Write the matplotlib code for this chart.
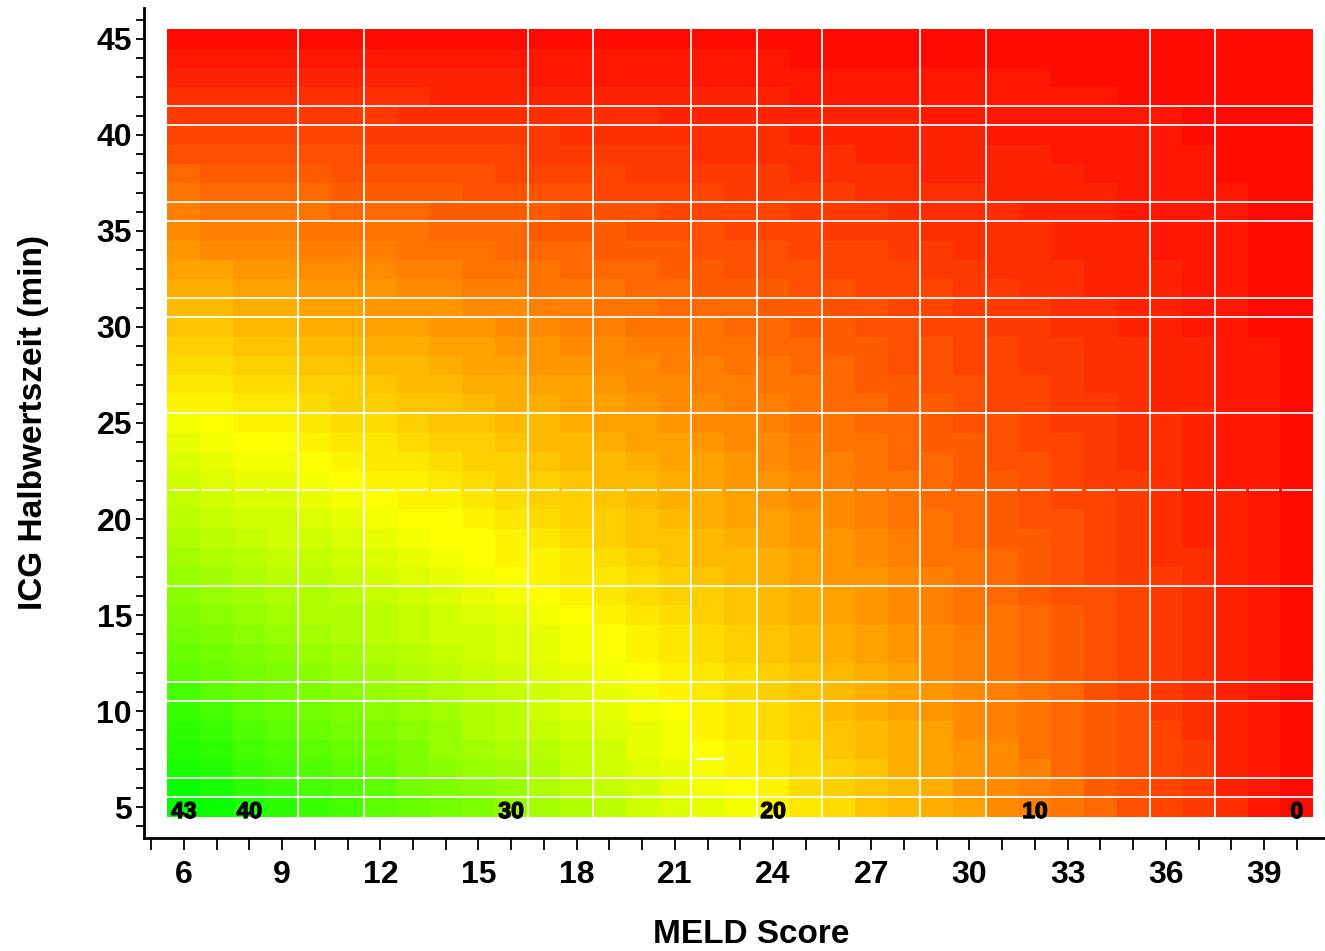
import matplotlib
matplotlib.use('Agg')
import matplotlib.pyplot as plt
import matplotlib.patheffects as pe
import numpy as np
from matplotlib.colors import LinearSegmentedColormap, Normalize

plt.rcParams['font.family'] = ['Liberation Sans', 'DejaVu Sans']
plt.rcParams['font.weight'] = 'bold'

# MELD score columns and ICG half-life rows (min)
meld = list(range(6, 41))
icg = list(range(5, 46))

# one row per ICG value, starting at 5 min; columns follow MELD 6..40
score_grid = [
    [43, 42, 40, 39, 38, 37, 35, 34, 33, 32, 30, 29, 28, 27, 25, 24, 23, 22, 20, 19, 18, 16, 15, 14, 13, 11, 10, 9, 8, 6, 5, 4, 3, 1, 0],  # 5
    [42, 41, 39, 38, 37, 36, 35, 33, 32, 31, 30, 28, 27, 26, 25, 23, 22, 21, 20, 18, 17, 16, 15, 14, 12, 11, 10, 9, 7, 6, 5, 4, 2, 1, 0],  # 6
    [41, 40, 38, 37, 36, 35, 34, 32, 31, 30, 29, 28, 26, 25, 24, 23, 22, 20, 19, 18, 17, 16, 14, 13, 12, 11, 10, 8, 7, 6, 5, 4, 2, 1, 0],  # 7
    [40, 39, 37, 36, 35, 34, 33, 32, 30, 29, 28, 27, 26, 25, 23, 22, 21, 20, 19, 18, 16, 15, 14, 13, 12, 11, 9, 8, 7, 6, 5, 4, 2, 1, 0],  # 8
    [39, 38, 36, 35, 34, 33, 32, 31, 30, 28, 27, 26, 25, 24, 23, 22, 20, 19, 18, 17, 16, 15, 14, 13, 11, 10, 9, 8, 7, 6, 5, 3, 2, 1, 0],  # 9
    [38, 37, 35, 34, 33, 32, 31, 30, 29, 28, 27, 25, 24, 23, 22, 21, 20, 19, 18, 17, 15, 14, 13, 12, 11, 10, 9, 8, 7, 6, 4, 3, 2, 1, 0],  # 10
    [37, 35, 34, 33, 32, 31, 30, 29, 28, 27, 26, 25, 24, 23, 22, 20, 19, 18, 17, 16, 15, 14, 13, 12, 11, 10, 9, 8, 6, 5, 4, 3, 2, 1, 0],  # 11
    [35, 34, 33, 32, 31, 30, 29, 28, 27, 26, 25, 24, 23, 22, 21, 20, 19, 18, 17, 16, 15, 14, 13, 11, 10, 9, 8, 7, 6, 5, 4, 3, 2, 1, 0],  # 12
    [34, 33, 32, 31, 30, 29, 28, 27, 26, 25, 24, 23, 22, 21, 20, 19, 18, 17, 16, 15, 14, 13, 12, 11, 10, 9, 8, 7, 6, 5, 4, 3, 2, 1, 0],  # 13
    [33, 32, 31, 30, 29, 28, 27, 26, 25, 25, 24, 23, 22, 21, 20, 19, 18, 17, 16, 15, 14, 13, 12, 11, 10, 9, 8, 7, 6, 5, 4, 3, 2, 1, 0],  # 14
    [32, 31, 30, 29, 28, 28, 27, 26, 25, 24, 23, 22, 21, 20, 19, 18, 17, 16, 15, 14, 13, 12, 11, 10, 9, 9, 8, 7, 6, 5, 4, 3, 2, 1, 0],  # 15
    [31, 30, 29, 28, 28, 27, 26, 25, 24, 23, 22, 21, 20, 19, 18, 17, 17, 16, 15, 14, 13, 12, 11, 10, 9, 8, 7, 6, 6, 5, 4, 3, 2, 1, 0],  # 16
    [30, 29, 28, 27, 27, 26, 25, 24, 23, 22, 21, 20, 19, 19, 18, 17, 16, 15, 14, 13, 12, 12, 11, 10, 9, 8, 7, 6, 5, 4, 4, 3, 2, 1, 0],  # 17
    [29, 28, 27, 26, 26, 25, 24, 23, 22, 21, 20, 20, 19, 18, 17, 16, 15, 15, 14, 13, 12, 11, 10, 9, 9, 8, 7, 6, 5, 4, 3, 3, 2, 1, 0],  # 18
    [28, 27, 26, 25, 25, 24, 23, 22, 21, 21, 20, 19, 18, 17, 16, 16, 15, 14, 13, 12, 12, 11, 10, 9, 8, 7, 7, 6, 5, 4, 3, 2, 2, 1, 0],  # 19
    [27, 26, 25, 25, 24, 23, 22, 21, 21, 20, 19, 18, 17, 17, 16, 15, 14, 13, 13, 12, 11, 10, 9, 9, 8, 7, 6, 6, 5, 4, 3, 2, 2, 1, 0],  # 20
    [26, 25, 24, 24, 23, 22, 21, 20, 20, 19, 18, 17, 17, 16, 15, 14, 14, 13, 12, 11, 11, 10, 9, 8, 8, 7, 6, 5, 5, 4, 3, 2, 2, 1, 0],  # 21
    [25, 24, 23, 23, 22, 21, 20, 20, 19, 18, 17, 17, 16, 15, 15, 14, 13, 12, 12, 11, 10, 9, 9, 8, 7, 7, 6, 5, 4, 4, 3, 2, 1, 1, 0],  # 22
    [24, 23, 22, 22, 21, 20, 19, 19, 18, 17, 17, 16, 15, 15, 14, 13, 13, 12, 11, 10, 10, 9, 8, 8, 7, 6, 6, 5, 4, 3, 3, 2, 1, 1, 0],  # 23
    [23, 22, 21, 21, 20, 19, 19, 18, 17, 17, 16, 15, 15, 14, 13, 13, 12, 11, 11, 10, 9, 9, 8, 7, 7, 6, 5, 5, 4, 3, 3, 2, 1, 1, 0],  # 24
    [22, 21, 20, 20, 19, 18, 18, 17, 16, 16, 15, 15, 14, 13, 13, 12, 11, 11, 10, 9, 9, 8, 8, 7, 6, 6, 5, 4, 4, 3, 3, 2, 1, 1, 0],  # 25
    [20, 20, 19, 19, 18, 17, 17, 16, 16, 15, 14, 14, 13, 13, 12, 11, 11, 10, 10, 9, 8, 8, 7, 7, 6, 5, 5, 4, 4, 3, 2, 2, 1, 1, 0],  # 26
    [19, 19, 18, 18, 17, 17, 16, 15, 15, 14, 14, 13, 13, 12, 11, 11, 10, 10, 9, 9, 8, 7, 7, 6, 6, 5, 5, 4, 3, 3, 2, 2, 1, 1, 0],  # 27
    [18, 18, 17, 17, 16, 16, 15, 15, 14, 13, 13, 12, 12, 11, 11, 10, 10, 9, 9, 8, 8, 7, 6, 6, 5, 5, 4, 4, 3, 3, 2, 2, 1, 1, 0],  # 28
    [17, 17, 16, 16, 15, 15, 14, 14, 13, 13, 12, 12, 11, 11, 10, 10, 9, 9, 8, 8, 7, 7, 6, 6, 5, 5, 4, 4, 3, 3, 2, 2, 1, 1, 0],  # 29
    [16, 16, 15, 15, 14, 14, 13, 13, 12, 12, 11, 11, 10, 10, 9, 9, 9, 8, 8, 7, 7, 6, 6, 5, 5, 4, 4, 3, 3, 2, 2, 1, 1, 0, 0],  # 30
    [15, 15, 14, 14, 13, 13, 12, 12, 12, 11, 11, 10, 10, 9, 9, 8, 8, 8, 7, 7, 6, 6, 5, 5, 4, 4, 4, 3, 3, 2, 2, 1, 1, 0, 0],  # 31
    [14, 14, 13, 13, 12, 12, 12, 11, 11, 10, 10, 9, 9, 9, 8, 8, 7, 7, 7, 6, 6, 5, 5, 5, 4, 4, 3, 3, 2, 2, 2, 1, 1, 0, 0],  # 32
    [13, 13, 12, 12, 11, 11, 11, 10, 10, 9, 9, 9, 8, 8, 8, 7, 7, 6, 6, 6, 5, 5, 5, 4, 4, 3, 3, 3, 2, 2, 2, 1, 1, 0, 0],  # 33
    [12, 11, 11, 11, 10, 10, 10, 9, 9, 9, 8, 8, 8, 7, 7, 7, 6, 6, 6, 5, 5, 5, 4, 4, 3, 3, 3, 2, 2, 2, 1, 1, 1, 0, 0],  # 34
    [11, 10, 10, 10, 9, 9, 9, 9, 8, 8, 8, 7, 7, 7, 6, 6, 6, 5, 5, 5, 4, 4, 4, 3, 3, 3, 3, 2, 2, 2, 1, 1, 1, 0, 0],  # 35
    [10, 9, 9, 9, 9, 8, 8, 8, 7, 7, 7, 7, 6, 6, 6, 5, 5, 5, 5, 4, 4, 4, 3, 3, 3, 3, 2, 2, 2, 1, 1, 1, 1, 0, 0],  # 36
    [9, 8, 8, 8, 8, 7, 7, 7, 7, 6, 6, 6, 6, 5, 5, 5, 5, 4, 4, 4, 4, 3, 3, 3, 3, 2, 2, 2, 2, 1, 1, 1, 1, 0, 0],  # 37
    [8, 7, 7, 7, 7, 6, 6, 6, 6, 6, 5, 5, 5, 5, 4, 4, 4, 4, 4, 3, 3, 3, 3, 2, 2, 2, 2, 2, 1, 1, 1, 1, 0, 0, 0],  # 38
    [6, 6, 6, 6, 6, 6, 5, 5, 5, 5, 5, 4, 4, 4, 4, 4, 3, 3, 3, 3, 3, 2, 2, 2, 2, 2, 2, 1, 1, 1, 1, 1, 0, 0, 0],  # 39
    [5, 5, 5, 5, 5, 5, 4, 4, 4, 4, 4, 4, 3, 3, 3, 3, 3, 3, 3, 2, 2, 2, 2, 2, 2, 1, 1, 1, 1, 1, 1, 0, 0, 0, 0],  # 40
    [4, 4, 4, 4, 4, 4, 4, 3, 3, 3, 3, 3, 3, 3, 3, 2, 2, 2, 2, 2, 2, 2, 2, 1, 1, 1, 1, 1, 1, 1, 1, 0, 0, 0, 0],  # 41
    [3, 3, 3, 3, 3, 3, 3, 3, 2, 2, 2, 2, 2, 2, 2, 2, 2, 2, 2, 1, 1, 1, 1, 1, 1, 1, 1, 1, 1, 0, 0, 0, 0, 0, 0],  # 42
    [2, 2, 2, 2, 2, 2, 2, 2, 2, 2, 2, 1, 1, 1, 1, 1, 1, 1, 1, 1, 1, 1, 1, 1, 1, 1, 1, 0, 0, 0, 0, 0, 0, 0, 0],  # 43
    [1, 1, 1, 1, 1, 1, 1, 1, 1, 1, 1, 1, 1, 1, 1, 1, 1, 1, 1, 0, 0, 0, 0, 0, 0, 0, 0, 0, 0, 0, 0, 0, 0, 0, 0],  # 44
    [0, 0, 0, 0, 0, 0, 0, 0, 0, 0, 0, 0, 0, 0, 0, 0, 0, 0, 0, 0, 0, 0, 0, 0, 0, 0, 0, 0, 0, 0, 0, 0, 0, 0, 0],  # 45
]

# MELD columns whose 5-min cell value is printed
labelled_meld = [6, 8, 16, 24, 32, 40]

# white seams across the raster
seam_x = [9.5, 11.5, 16.5, 18.5, 21.5, 23.5, 25.5, 28.5, 30.5, 35.5, 37.5]
seam_y = [41.5, 40.5, 36.5, 35.5, 31.5, 30.5, 25.5, 16.5, 11.5, 10.5, 6.5, 5.5]
broken_seam_y = 21.5

z = np.array(score_grid)
x_edges = np.append(np.array(meld) - 0.5, meld[-1] + 0.5)
y_edges = np.append(np.array(icg) - 0.5, icg[-1] + 0.5)

cmap = LinearSegmentedColormap.from_list('ryg', ['#ff0000', '#ffff00', '#00ff00'])
norm = Normalize(vmin=-1, vmax=43)

fig = plt.figure(figsize=(13.25, 9.51), dpi=100)
ax = fig.add_axes([143.6 / 1325, 113 / 951, (1359 - 143.6) / 1325, 830 / 951])

ax.pcolormesh(x_edges, y_edges, z, cmap=cmap, norm=norm, shading='flat',
              antialiased=False, linewidth=0, zorder=1)

seam = dict(color='white', alpha=0.9, lw=1.4, zorder=2)
ax.vlines(seam_x, y_edges[0], y_edges[-1], **seam)
ax.hlines(seam_y, x_edges[0], x_edges[-1], **seam)
ax.hlines([broken_seam_y] * len(meld), np.array(meld) - 0.45, np.array(meld) + 0.45, **seam)
ax.hlines(7.5, 21.6, 22.5, **seam)

for m in labelled_meld:
    val = z[0, meld.index(m)]
    ax.text(m, 4.43, str(val), ha='center', va='baseline', fontsize=16.5,
            fontweight='bold', color='black', zorder=3,
            path_effects=[pe.withStroke(linewidth=0.9, foreground='black')])

ax.set_xlim(4.77, 41.9)
ax.set_ylim(3.39, 46.61)

ax.set_xticks(range(6, 40, 3))
ax.set_xticks(range(5, 42), minor=True)
ax.set_yticks(range(5, 46, 5))
ax.set_yticks(range(4, 47), minor=True)

ax.tick_params(axis='x', which='both', length=8.6, width=1.3, direction='out',
               labelsize=23, pad=7)
ax.tick_params(axis='y', which='both', length=5.8, width=1.3, direction='out',
               labelsize=23, pad=2.5)

for side in ['top', 'right']:
    ax.spines[side].set_visible(False)
for side in ['left', 'bottom']:
    ax.spines[side].set_linewidth(2.0)

fig.text(751 / 1325, 8 / 951, 'MELD Score', ha='center', va='baseline',
         fontsize=24, fontweight='bold')
fig.text(34 / 1325, 1 - 422 / 951, 'ICG Halbwertszeit (min)', rotation=90,
         ha='center', va='center', fontsize=24, fontweight='bold')

fig.savefig('out.png', dpi=100)
